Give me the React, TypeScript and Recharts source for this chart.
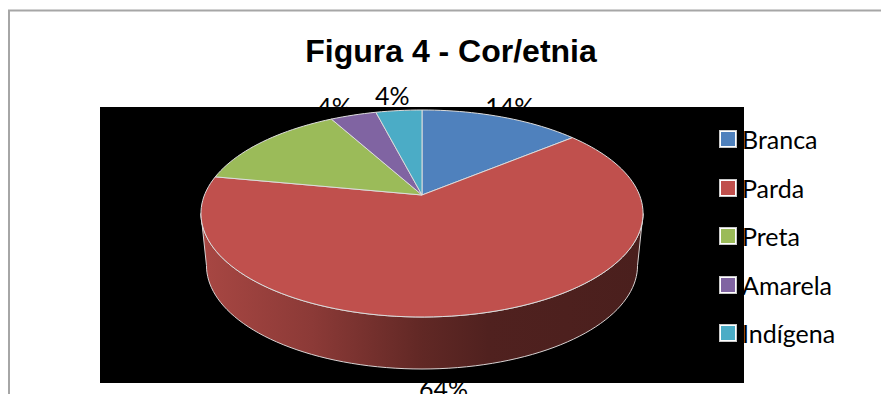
import React from 'react';
import { PieChart, Pie, Legend } from 'recharts';

const CATEGORIES = ['Branca', 'Parda', 'Preta', 'Amarela', 'Indígena'];
const PERCENTAGES = [14, 64, 14, 4, 4];
const COLORS = ['#4F81BD', '#C0504D', '#9BBB59', '#8064A2', '#4BACC6'];

const data = CATEGORIES.map((name, i) => ({
  name,
  value: PERCENTAGES[i],
  fill: COLORS[i],
}));

const WIDTH = 881;
const HEIGHT = 394;
const CX = 422;
const CY = 195;
const RADIUS = 217.5;
const NO_MARGIN = { top: 0, right: 0, bottom: 0, left: 0 };

// Fake 3D: a perspective projection of the disc, plus a wall below the front rim
const PERSPECTIVE = 0.1787;
const SQUASH = 0.4607;
const WALL_DEPTH = 52;
const WALL_TAPER = 0.975;

// Extra nudge per data label, in px, on top of the projected slice position
const LABEL_NUDGE = [
  [-8, 5],
  [-57, 0],
  [-60, 0],
  [-5, 7],
  [-2, 1],
];

const project = (deg: number, cx: number, cy: number, r: number) => {
  const a = (deg * Math.PI) / 180;
  const d = 1 + PERSPECTIVE * Math.sin(a);
  return {
    x: cx + (r * Math.cos(a)) / d,
    y: cy - (r * SQUASH * Math.sin(a)) / d,
  };
};

const rimPoints = (from: number, to: number, cx: number, cy: number, r: number) => {
  const steps = Math.max(1, Math.ceil(Math.abs(from - to) / 2));
  const pts = [];
  for (let i = 0; i <= steps; i++) {
    pts.push(project(from + ((to - from) * i) / steps, cx, cy, r));
  }
  return pts;
};

const toPath = (pts: { x: number; y: number }[]) =>
  pts.map((p, i) => `${i ? 'L' : 'M'}${p.x.toFixed(2)} ${p.y.toFixed(2)}`).join(' ');

// Slice top face plus the part of its wall that faces the viewer
const Slice3D = (props: any) => {
  const { cx, cy, outerRadius, startAngle, endAngle, fill } = props;
  const rim = rimPoints(startAngle, endAngle, cx, cy, outerRadius);
  const top = `M${cx} ${cy} ${toPath(rim).replace('M', 'L')} Z`;

  const edge = (Math.asin(PERSPECTIVE) * 180) / Math.PI;
  const wallFrom = Math.min(startAngle, -edge);
  const wallTo = Math.max(endAngle, -180 + edge);
  let wall = null;
  if (wallFrom > wallTo) {
    const upper = rimPoints(wallFrom, wallTo, cx, cy, outerRadius);
    const lower = upper
      .map((p) => ({ x: cx + (p.x - cx) * WALL_TAPER, y: p.y + WALL_DEPTH }))
      .reverse();
    wall = (
      <path
        d={`${toPath(upper)} ${toPath(lower).replace('M', 'L')} Z`}
        fill="url(#wallShade)"
        stroke="#d8d2d2"
        strokeWidth={1}
      />
    );
  }

  return (
    <g>
      {wall}
      <path d={top} fill={fill} stroke="#dcdcdc" strokeWidth={1} strokeLinejoin="round" />
    </g>
  );
};

const renderPercentLabel = (props: any) => {
  const { cx, cy, midAngle, outerRadius, value, index } = props;
  const p = project(midAngle, cx, cy, outerRadius * 1.2);
  const [dx, dy] = LABEL_NUDGE[index];
  // midAngle runs past -180 here, so test the sine rather than the raw angle
  const below = Math.sin((midAngle * Math.PI) / 180) < 0;
  return (
    <text
      x={p.x + dx}
      y={p.y + dy + (below ? WALL_DEPTH : 0)}
      textAnchor="middle"
      dominantBaseline="central"
      fontFamily="Lato, 'Open Sans', sans-serif"
      fontSize={25}
      fill="#000"
    >
      {`${value}%`}
    </text>
  );
};

const renderLegend = (props: any) => (
  <div style={{ fontFamily: "Lato, 'Open Sans', sans-serif", fontSize: 25, color: '#000' }}>
    {(props.payload || []).map((entry: any) => (
      <div key={entry.value} style={{ display: 'flex', alignItems: 'center', height: 48.5 }}>
        <span
          style={{
            width: 14,
            height: 14,
            background: entry.color,
            border: '1px solid #fff',
            outline: '1px solid #c8c8c8',
            marginRight: 6,
          }}
        />
        {entry.value}
      </div>
    ))}
  </div>
);

const layer: React.CSSProperties = { position: 'absolute', left: 0, top: 0 };

export default function App() {
  return (
    <div style={{ ...layer, width: WIDTH, height: HEIGHT, overflow: 'hidden', background: '#fff' }}>
      {/* Back layer: frame, title and the data labels the plot area sits on top of */}
      <div style={layer}>
        <PieChart width={WIDTH} height={HEIGHT} margin={NO_MARGIN} accessibilityLayer={false}>
          <rect x={9} y={10.5} width={WIDTH + 20} height={HEIGHT + 20} fill="#fff" stroke="#a6a6a6" strokeWidth={2} />
          <text
            x={451}
            y={62}
            textAnchor="middle"
            fontFamily="'Liberation Sans', Arial, sans-serif"
            fontWeight="bold"
            fontSize={32}
            fill="#000"
          >
            Figura 4 - Cor/etnia
          </text>
          <Pie
            data={data}
            dataKey="value"
            nameKey="name"
            cx={CX}
            cy={CY}
            outerRadius={RADIUS}
            startAngle={90}
            endAngle={-270}
            stroke="none"
            fillOpacity={0}
            label={renderPercentLabel}
            labelLine={false}
            isAnimationActive={false}
          />
        </PieChart>
      </div>
      {/* Front layer: black plot area, the pie and the legend */}
      <div style={layer}>
        <PieChart width={WIDTH} height={HEIGHT} margin={NO_MARGIN} accessibilityLayer={false}>
          <defs>
            <linearGradient id="wallShade" x1="0" y1="0" x2="1" y2="0">
              <stop offset="0" stopColor="#a84743" />
              <stop offset="0.25" stopColor="#8c3a37" />
              <stop offset="0.5" stopColor="#612825" />
              <stop offset="0.65" stopColor="#50211f" />
              <stop offset="1" stopColor="#4a1f1d" />
            </linearGradient>
          </defs>
          <rect x={100} y={107} width={644} height={276} fill="#000" />
          <Pie
            data={data}
            dataKey="value"
            nameKey="name"
            cx={CX}
            cy={CY}
            outerRadius={RADIUS}
            startAngle={90}
            endAngle={-270}
            shape={Slice3D}
            isAnimationActive={false}
          />
          <Legend
            layout="vertical"
            content={renderLegend}
            itemSorter={null}
            wrapperStyle={{ left: 720, top: 115, width: 150, bottom: 'auto', right: 'auto' }}
          />
        </PieChart>
      </div>
    </div>
  );
}
